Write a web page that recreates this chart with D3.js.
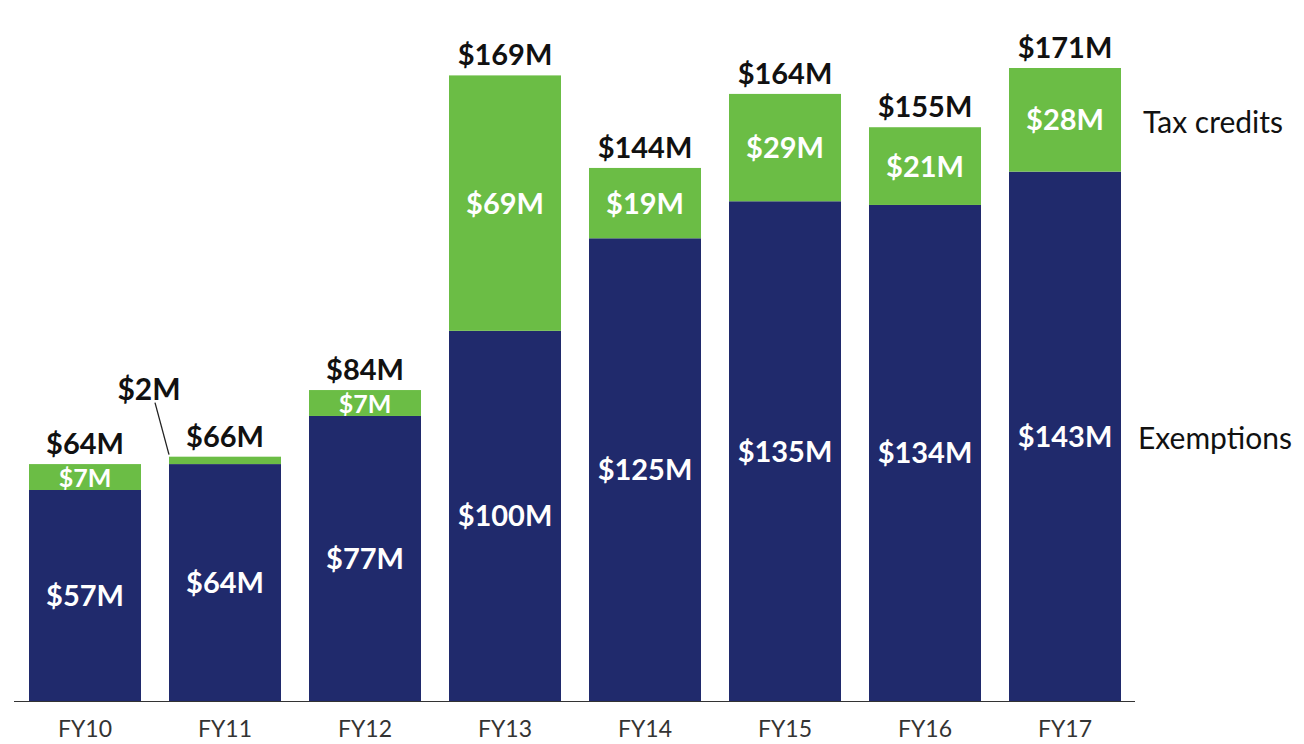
<!DOCTYPE html>
<html>
<head>
<meta charset="utf-8">
<script src="https://cdn.jsdelivr.net/npm/d3@7"></script>
<style>
  body { margin: 0; background: #fff; }
  text { font-family: Lato, "Noto Sans", sans-serif; }
</style>
</head>
<body>
<div id="chart"></div>
<script>
var years = ["FY10", "FY11", "FY12", "FY13", "FY14", "FY15", "FY16", "FY17"];
var exemptions = [57, 64, 77, 100, 125, 135, 134, 143];
var taxCredits = [7, 2, 7, 69, 19, 29, 21, 28];
var totals = [64, 66, 84, 169, 144, 164, 155, 171];
var seriesNames = ["Exemptions", "Tax credits"];

var width = 1304, height = 744;
var colors = { "Exemptions": "#202a6c", "Tax credits": "#6bbd45" };

var svg = d3.select("#chart").append("svg")
    .attr("width", width)
    .attr("height", height);

var x = d3.scaleBand()
    .domain(years)
    .range([15, 1135])
    .paddingInner(0.2)
    .paddingOuter(0.1);

var y = d3.scaleLinear()
    .domain([0, 171])
    .range([701, 68]);

var rows = years.map(function(yr, i) {
  return { year: yr, "Exemptions": exemptions[i], "Tax credits": taxCredits[i], total: totals[i] };
});

var stacked = d3.stack().keys(seriesNames)(rows);

var layers = svg.selectAll("g.layer")
  .data(stacked)
  .join("g")
    .attr("class", "layer")
    .attr("fill", function(d) { return colors[d.key]; });

layers.selectAll("rect")
  .data(function(d) { return d; })
  .join("rect")
    .attr("x", function(d) { return x(d.data.year); })
    .attr("y", function(d) { return y(d[1]); })
    .attr("width", x.bandwidth())
    .attr("height", function(d) { return y(d[0]) - y(d[1]); });

// segment labels
stacked.forEach(function(layer) {
  layer.forEach(function(d) {
    var v = d[1] - d[0];
    var cx = x(d.data.year) + x.bandwidth() / 2;
    if (v >= 5) {
      var thin = (y(d[0]) - y(d[1])) < 30;
      svg.append("text")
        .attr("x", cx)
        .attr("y", (y(d[0]) + y(d[1])) / 2 + (thin ? 1 : 0))
        .attr("dy", "0.36em")
        .attr("text-anchor", "middle")
        .attr("fill", "#fff")
        .style("font-size", thin ? "25px" : "29px")
        .style("font-weight", "bold")
        .text("$" + v + "M");
    } else {
      // tiny segment: label outside with a leader line
      var bx = x(d.data.year);
      svg.append("line")
        .attr("x1", bx - 14).attr("y1", y(d[1]) - 54)
        .attr("x2", bx).attr("y2", y(d[1]) - 2)
        .attr("stroke", "#222")
        .attr("stroke-width", 1.3);
      svg.append("text")
        .attr("x", bx - 20)
        .attr("y", y(d[1]) - 57)
        .attr("text-anchor", "middle")
        .attr("fill", "#111")
        .style("font-size", "30px")
        .style("font-weight", "bold")
        .text("$" + v + "M");
    }
  });
});

// total labels
svg.selectAll("text.total")
  .data(rows)
  .join("text")
    .attr("class", "total")
    .attr("x", function(d) { return x(d.year) + x.bandwidth() / 2; })
    .attr("y", function(d) { return y(d.total) - 10; })
    .attr("text-anchor", "middle")
    .attr("fill", "#111")
    .style("font-size", "29px")
    .style("font-weight", "bold")
    .text(function(d) { return "$" + d.total + "M"; });

// baseline + category labels
svg.append("line")
  .attr("x1", 14).attr("x2", 1135)
  .attr("y1", y(0) + 0.5).attr("y2", y(0) + 0.5)
  .attr("stroke", "#333")
  .attr("stroke-width", 1.2);

svg.selectAll("text.cat")
  .data(years)
  .join("text")
    .attr("class", "cat")
    .attr("x", function(d) { return x(d) + x.bandwidth() / 2; })
    .attr("y", 737)
    .attr("text-anchor", "middle")
    .attr("fill", "#333")
    .style("font-size", "23px")
    .text(function(d) { return d; });

// series names at right, beside the last bar's segments
var last = stacked.map(function(layer) { return layer[layer.length - 1]; });
svg.selectAll("text.legend")
  .data(last)
  .join("text")
    .attr("class", "legend")
    .attr("x", function(d, i) { return i === 0 ? 1138 : 1143; })
    .attr("y", function(d) { return (y(d[0]) + y(d[1])) / 2 + 2; })
    .attr("dy", "0.36em")
    .attr("fill", "#111")
    .style("font-size", "30px")
    .text(function(d, i) { return seriesNames[i]; });
</script>
</body>
</html>
